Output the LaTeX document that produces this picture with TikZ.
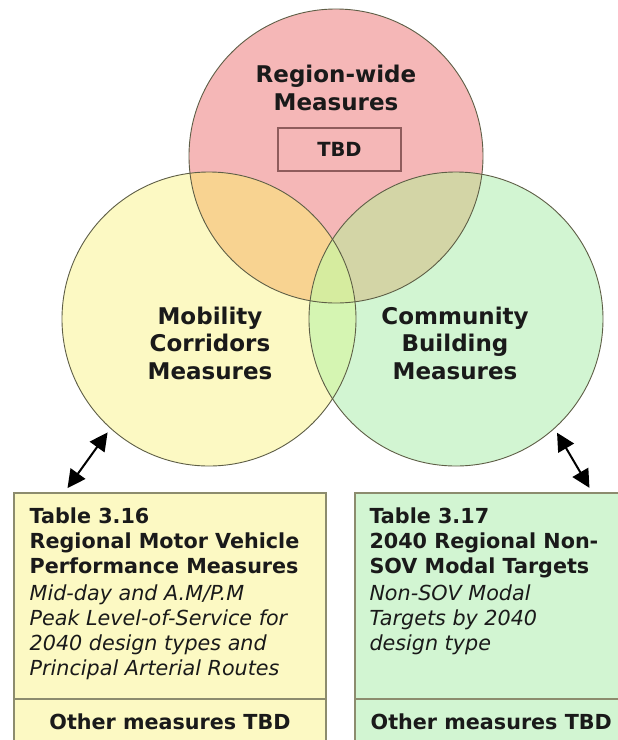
\documentclass[tikz,border=0pt]{standalone}
\usepackage{fontspec}
\setmainfont{DejaVu Sans}
\usetikzlibrary{positioning,arrows.meta}
\definecolor{redset}{HTML}{F5B7B7}
\definecolor{yellowset}{HTML}{FCF9C3}
\definecolor{greenset}{HTML}{D2F5D2}
\definecolor{ryset}{HTML}{F8D391}
\definecolor{rgset}{HTML}{D3D5A6}
\definecolor{ygset}{HTML}{D5F5B2}
\definecolor{rygset}{HTML}{D6EC9F}
\definecolor{rimgray}{HTML}{5E5E46}
\definecolor{cellgray}{HTML}{8C8C6E}
\definecolor{tbdred}{HTML}{8F5C5C}
\definecolor{inkblack}{HTML}{1A1A1A}

\begin{document}
\begin{tikzpicture}[x=1pt,y=-1pt,
    vennset/.style={circle,minimum size=294pt,inner sep=0pt},
    rim/.style={draw=rimgray,line width=0.9pt},
    setlabel/.style={font=\fontsize{23}{27.5}\selectfont\bfseries,align=center,text=inkblack},
    cell/.style={rectangle,draw=cellgray,line width=1.3pt,minimum width=312pt,inner sep=0pt,outer sep=0pt},
    tabtext/.style={font=\fontsize{20.7}{25}\selectfont,align=left,inner sep=0pt,text=inkblack},
    othertext/.style={font=\fontsize{20.7}{25}\selectfont\bfseries,inner sep=0pt,text=inkblack},
    link/.style={{Triangle[length=18pt,width=18pt]}-{Triangle[length=18pt,width=18pt]},line width=2pt,shorten <=5pt,shorten >=6pt}]
  \useasboundingbox (0,0) rectangle (618,740);
  \clip (0,0) rectangle (618,740);
  \fill[white] (0,0) rectangle (618,740);

  % the three sets
  \node[vennset,fill=redset] (region) at (336,156) {};
  \node[vennset,fill=yellowset] (mobility) at (209,319) {};
  \node[vennset,fill=greenset] (community) at (456,319) {};

  % overlaps
  \begin{scope}
    \clip (region.center) circle[radius=147];
    \fill[ryset] (mobility.center) circle[radius=147];
    \fill[rgset] (community.center) circle[radius=147];
  \end{scope}
  \begin{scope}
    \clip (mobility.center) circle[radius=147];
    \fill[ygset] (community.center) circle[radius=147];
    \clip (region.center) circle[radius=147];
    \fill[rygset] (community.center) circle[radius=147];
  \end{scope}
  \foreach \s in {region,mobility,community}
    \draw[rim] (\s.center) circle[radius=147];

  \node[setlabel] (regionlabel) at (336,88) {Region-wide\\Measures};
  \node[draw=tbdred,line width=1.1pt,minimum width=123pt,minimum height=43pt,
        font=\fontsize{19.5}{24}\selectfont\bfseries,text=inkblack] (tbd) at (339.5,149.5) {TBD};
  \node[setlabel] (mobilitylabel) at (210,343) {Mobility\\Corridors\\Measures};
  \node[setlabel] (communitylabel) at (455,343) {Community\\Building\\Measures};

  % tables
  \node[cell,fill=yellowset,minimum height=206pt] (tab16) at (170,596) {};
  \node[cell,fill=yellowset,minimum height=80pt,below=0pt of tab16] (tab16rest) {};
  \node[cell,fill=greenset,minimum height=206pt] (tab17) at (511,596) {};
  \node[cell,fill=greenset,minimum height=80pt,below=0pt of tab17] (tab17rest) {};

  \node[tabtext,below right=14.3pt and 15.5pt of tab16.north west] (tab16text)
    {\textbf{Table 3.16}\\
     \textbf{Regional Motor Vehicle}\\
     \textbf{Performance Measures}\\[2pt]
     \textit{Mid-day and A.M/P.M}\\
     \textit{Peak Level-of-Service for}\\
     \textit{2040 design types and}\\
     \textit{Principal Arterial Routes}};
  \node[tabtext,below right=14.3pt and 14.3pt of tab17.north west] (tab17text)
    {\textbf{Table 3.17}\\
     \textbf{2040 Regional Non-}\\
     \textbf{SOV Modal Targets}\\[2pt]
     \textit{Non-SOV Modal}\\
     \textit{Targets by 2040}\\
     \textit{design type}};
  \node[othertext] (other16) at (170,722) {Other measures TBD};
  \node[othertext,anchor=west] (other17) at (370.5,722) {Other measures TBD};

  % arrows between sets and tables
  \draw[link] (mobility.228) -- ([xshift=50pt]tab16.north west);
  \draw[link] (community.-48) -- ([xshift=237.5pt]tab17.north west);
\end{tikzpicture}
\end{document}
